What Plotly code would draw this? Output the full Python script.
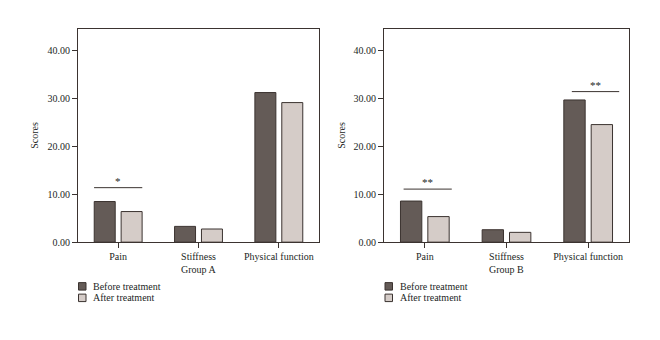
import plotly.graph_objects as go

categories = ["Pain", "Stiffness", "Physical function"]
series_names = ["Before treatment", "After treatment"]
group_labels = ["Group A", "Group B"]
group_a_before = [8.5, 3.3, 31.3]
group_a_after = [6.4, 2.75, 29.2]
group_b_before = [8.6, 2.6, 29.75]
group_b_after = [5.35, 2.05, 24.6]
y_ticks = [0, 10, 20, 30, 40]
# significance brackets: (category, left offset, right offset, y, label)
sig_a = [("Pain", -0.30, 0.30, 11.4, "*")]
sig_b = [("Pain", -0.26, 0.33, 11.1, "**"),
         ("Physical function", -0.20, 0.38, 31.5, "**")]

DARK = "#645b57"
LIGHT = "#d5ccc8"
EDGE = "#3b3330"
FONT = "Liberation Serif"
TXT = "#231f1e"
FS = 10

fig = go.Figure()
panels = [
    (group_a_before, group_a_after, "x", "y"),
    (group_b_before, group_b_after, "x2", "y2"),
]
for before, after, xa, ya in panels:
    for vals, col, name in [(before, DARK, series_names[0]), (after, LIGHT, series_names[1])]:
        fig.add_trace(go.Bar(x=categories, y=vals, name=name, xaxis=xa, yaxis=ya,
                             marker=dict(color=col, line=dict(color=EDGE, width=1)),
                             showlegend=False))

ydom = [1 - 246.5 / 340, 1 - 30 / 340]
xdoms = [[78 / 660, 319 / 660], [384 / 660, 629 / 660]]

axis_common = dict(showline=True, linecolor=EDGE, linewidth=1, mirror=True,
                   ticks="outside", ticklen=5, tickcolor=EDGE, showgrid=False,
                   zeroline=False, tickfont=dict(family=FONT, size=FS, color=TXT))

layout = dict(
    width=660, height=340, margin=dict(l=0, r=0, t=0, b=0),
    paper_bgcolor="white", plot_bgcolor="white",
    barmode="group", bargap=0.33, bargroupgap=0.22,
    showlegend=False,
    font=dict(family=FONT, color=TXT),
)
for i, (xa, ya) in enumerate([("xaxis", "yaxis"), ("xaxis2", "yaxis2")]):
    layout[xa] = dict(domain=xdoms[i], anchor="y" if i == 0 else "y2",
                      range=[-0.5, 2.5], **axis_common)
    layout[ya] = dict(domain=ydom, anchor="x" if i == 0 else "x2",
                      range=[0, 44.5], tickvals=y_ticks, tickformat=".2f", **axis_common)
fig.update_layout(**layout)

shapes = []
annotations = []
for sigs, xr, yr in [(sig_a, "x", "y"), (sig_b, "x2", "y2")]:
    for cat, lo, hi, yv, lab in sigs:
        idx = categories.index(cat)
        shapes.append(dict(type="line", xref=xr, yref=yr, x0=idx + lo, x1=idx + hi,
                           y0=yv, y1=yv, line=dict(color=EDGE, width=1)))
        annotations.append(dict(xref=xr, yref=yr, x=idx + (lo + hi) / 2, y=yv, text=lab,
                                showarrow=False, xanchor="center", yanchor="bottom", yshift=-1,
                                font=dict(family=FONT, size=11, color=TXT)))

for i, xd in enumerate(xdoms):
    cx = (xd[0] + xd[1]) / 2
    # group label
    annotations.append(dict(xref="paper", yref="paper", x=cx, y=1 - 274 / 340, text=group_labels[i],
                            xanchor="center", yanchor="middle",
                            showarrow=False, font=dict(family=FONT, size=FS, color=TXT)))
    # y title
    annotations.append(dict(xref="paper", yref="paper", x=(35 if i == 0 else 342) / 660,
                            y=(ydom[0] + ydom[1]) / 2, text="Scores", textangle=-90,
                            xanchor="center", yanchor="middle",
                            showarrow=False, font=dict(family=FONT, size=FS, color=TXT)))
    # legend
    sq_x = 78.5 if i == 0 else 385
    tx = 91 if i == 0 else 398
    for j, (name, col) in enumerate(zip(series_names, [DARK, LIGHT])):
        yc = 291.5 + j * 11.7
        shapes.append(dict(type="rect", xref="paper", yref="paper",
                           x0=sq_x / 660, x1=(sq_x + 7.5) / 660,
                           y0=1 - (yc + 3.8) / 340, y1=1 - (yc - 3.8) / 340,
                           fillcolor=col, line=dict(color=EDGE, width=1)))
        annotations.append(dict(xref="paper", yref="paper", x=tx / 660, y=1 - yc / 340,
                                xanchor="left", yanchor="middle", text=name, showarrow=False,
                                font=dict(family=FONT, size=FS, color=TXT)))

fig.update_layout(shapes=shapes, annotations=annotations)
fig.write_html("out.html")
